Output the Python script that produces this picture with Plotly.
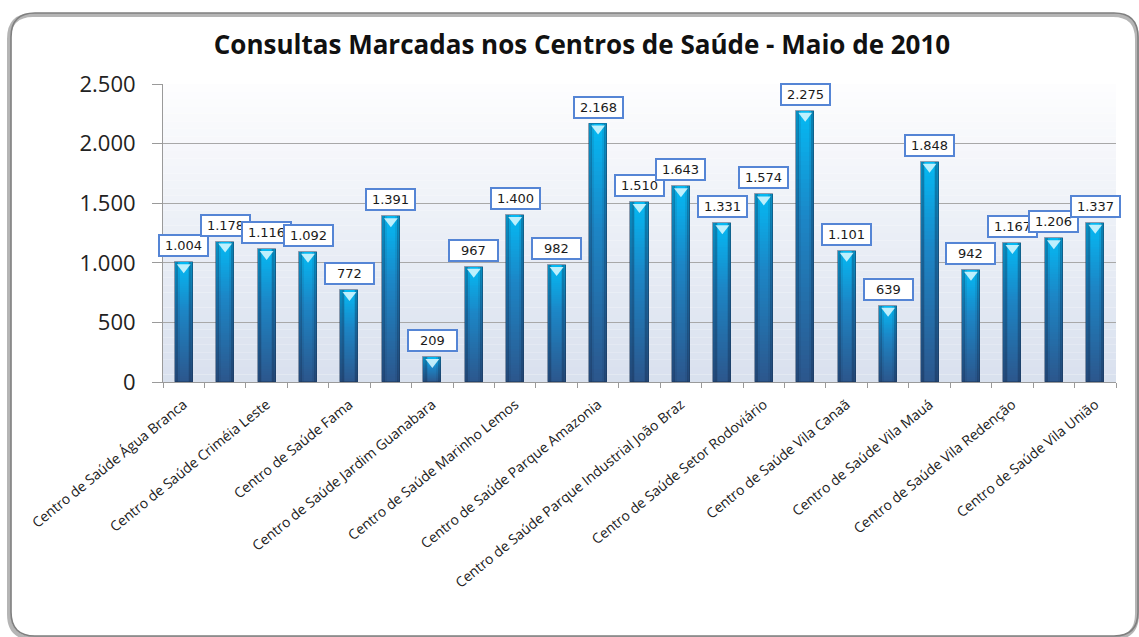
import plotly.graph_objects as go

# ---------------- data ----------------
title_text = "Consultas Marcadas nos Centros de Saúde - Maio de 2010"
values = [1004, 1178, 1116, 1092, 772, 1391, 209, 967, 1400, 982, 2168,
          1510, 1643, 1331, 1574, 2275, 1101, 639, 1848, 942, 1167, 1206, 1337]
tick_labels = ["Centro de Saúde Água Branca", "Centro de Saúde Criméia Leste",
               "Centro de Saúde Fama", "Centro de Saúde Jardim Guanabara",
               "Centro de Saúde Marinho Lemos", "Centro de Saúde Parque Amazonia",
               "Centro de Saúde Parque Industrial João Braz", "Centro de Saúde Setor Rodoviário",
               "Centro de Saúde Vila Canaã", "Centro de Saúde Vila Mauá",
               "Centro de Saúde Vila Redenção", "Centro de Saúde Vila União"]
y_ticks = [0, 500, 1000, 1500, 2000, 2500]

# ---------------- layout geometry ----------------
W, H = 1139, 637
ML, MR, MT, MB = 163, 23, 84, 255
PW, PH = W - ML - MR, H - MT - MB

def px(x):
    return (x - ML) / PW

def py(y):
    return 1 - (y - MT) / PH

positions = list(range(1, len(values) + 1))
label_positions = positions[::2]


def fmt(v):
    return f"{v:,}".replace(",", ".")


def lerp(c1, c2, t):
    return tuple(round(a + (b - a) * t) for a, b in zip(c1, c2))


def bar_color(f):
    bottom, mid, top = (44, 86, 140), (28, 134, 198), (4, 186, 244)
    if f < 0.6:
        c = lerp(bottom, mid, f / 0.6)
    else:
        c = lerp(mid, top, (f - 0.6) / 0.4)
    return "rgb(%d,%d,%d)" % c


fig = go.Figure()

K = 60
BW = 0.435
for k in range(K):
    f = (k + 0.5) / K
    col = bar_color(f)
    fig.add_trace(go.Bar(
        x=positions,
        y=[v / K * 1.02 for v in values],
        base=[v * k / K for v in values],
        width=BW,
        marker=dict(color=col, line=dict(width=0)),
        showlegend=False, hoverinfo="skip",
    ))

# darker side strips for a cylinder look
SW = BW * 0.18
for off, alpha in [(-BW / 2, 0.28), (-BW / 2 + SW * 0.5, 0.1),
                   (BW / 2 - SW, 0.28), (BW / 2 - SW * 1.5, 0.1)]:
    fig.add_trace(go.Bar(
        x=positions, y=values, width=SW, offset=off,
        marker=dict(color=f"rgba(15,35,70,{alpha})", line=dict(width=0)),
        showlegend=False, hoverinfo="skip",
    ))

# edge outline
fig.add_trace(go.Bar(
    x=positions, y=values, width=BW,
    marker=dict(color="rgba(0,0,0,0)", line=dict(color="rgba(25,50,85,0.45)", width=1)),
    showlegend=False, hoverinfo="skip",
))

# light cap at the top of each bar
fig.add_trace(go.Scatter(
    x=positions, y=values, mode="markers",
    marker=dict(symbol="triangle-down", size=12, color="rgba(222,250,255,0.85)",
                line=dict(width=0), standoff=5, angle=0),
    showlegend=False, hoverinfo="skip",
))

shapes = []
# plot-area background gradient
NB = 40
for i in range(NB):
    t = i / NB
    c = lerp((253, 253, 254), (216, 224, 238), t)
    shapes.append(dict(type="rect", xref="x domain", yref="y domain",
                       x0=0, x1=1, y0=1 - (i + 1) / NB, y1=1 - i / NB,
                       fillcolor="rgb(%d,%d,%d)" % c, line=dict(width=0), layer="below"))

# outer rounded frame (with soft shadow)
def rounded(x0, y0, x1, y1, r):
    return (f"M {px(x0 + r)} {py(y0)} L {px(x1 - r)} {py(y0)} "
            f"Q {px(x1)} {py(y0)} {px(x1)} {py(y0 + r)} "
            f"L {px(x1)} {py(y1 - r)} Q {px(x1)} {py(y1)} {px(x1 - r)} {py(y1)} "
            f"L {px(x0 + r)} {py(y1)} Q {px(x0)} {py(y1)} {px(x0)} {py(y1 - r)} "
            f"L {px(x0)} {py(y0 + r)} Q {px(x0)} {py(y0)} {px(x0 + r)} {py(y0)} Z")

shapes.append(dict(type="path", xref="paper", yref="paper",
                   path=rounded(9, 15, 1137, 638, 24),
                   line=dict(color="rgba(120,120,120,0.55)", width=4), layer="below"))
shapes.append(dict(type="path", xref="paper", yref="paper",
                   path=rounded(11, 13, 1138, 636, 24),
                   line=dict(color="#7f7f7f", width=1.6), layer="below"))

annotations = []
for x, v in zip(positions, values):
    annotations.append(dict(x=x, y=v, xref="x", yref="y", text=fmt(v), showarrow=False,
                            yanchor="bottom", yshift=5,
                            font=dict(family="DejaVu Sans", size=13, color="#1a1a1a"),
                            bgcolor="white", bordercolor="#5585d5", borderwidth=2,
                            borderpad=1, width=45, height=17))

fig.update_layout(
    width=W, height=H,
    margin=dict(l=ML, r=MR, t=MT, b=MB),
    paper_bgcolor="white", plot_bgcolor="rgba(0,0,0,0)",
    barmode="overlay", bargap=0,
    separators=",.",
    title=dict(text=f"<b>{title_text}</b>", x=582 / W, xanchor="center", xref="container",
               y=1 - 45 / H, yanchor="middle", yref="container",
               font=dict(family="Open Sans", size=26, color="#111")),
    shapes=shapes,
    annotations=annotations,
    xaxis=dict(range=[0.5, len(values) + 0.5], tickvals=label_positions, ticktext=tick_labels,
               tickangle=-39, ticks="", showgrid=False, zeroline=False,
               showline=True, linecolor="#9a9a9a", linewidth=1, ticklabelstandoff=8,
               tickfont=dict(family="Open Sans", size=14, color="#222"),
               minor=dict(tickvals=[p + 0.5 for p in [0] + positions], ticks="outside",
                          ticklen=5, tickcolor="#9a9a9a", showgrid=False)),
    yaxis=dict(range=[0, 2500], tickvals=y_ticks, tickformat=",d",
               showgrid=True, gridcolor="#a8a8a8", gridwidth=1,
               ticks="outside", ticklen=10, tickcolor="#9a9a9a", ticklabelstandoff=12,
               showline=True, linecolor="#9a9a9a", linewidth=1, zeroline=False,
               tickfont=dict(family="Open Sans", size=22, color="#222")),
)

fig.write_html("out.html", config={"displayModeBar": False},
               post_script="document.body.style.margin='0px';")
